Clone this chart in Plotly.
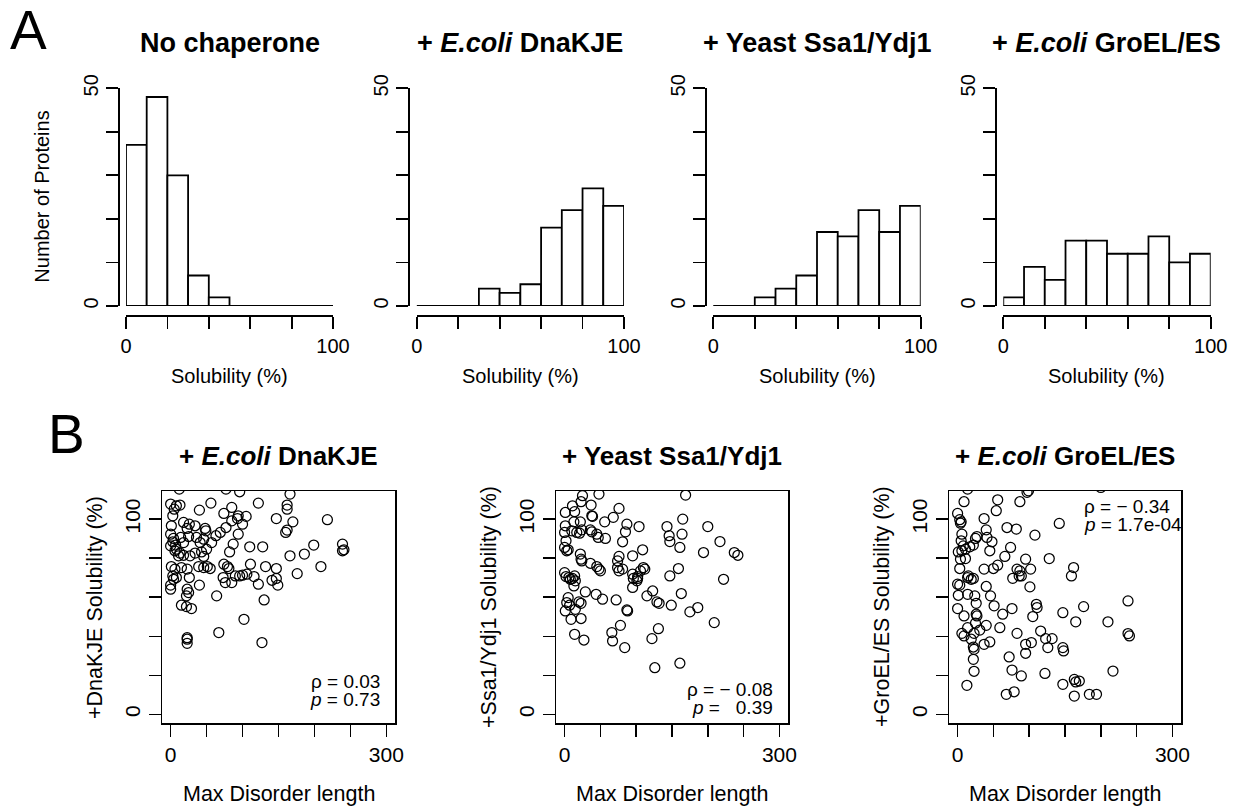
import plotly.graph_objects as go

# ---------------- data ----------------
bin_edges = [0, 10, 20, 30, 40, 50, 60, 70, 80, 90, 100]
hist_titles = ["<b>No chaperone</b>",
               "<b>+ <i>E.coli</i> DnaKJE</b>",
               "<b>+ Yeast Ssa1/Ydj1</b>",
               "<b>+ <i>E.coli</i> GroEL/ES</b>"]
counts_none = [37, 48, 30, 7, 2, 0, 0, 0, 0, 0]
counts_dnakje = [0, 0, 0, 4, 3, 5, 18, 22, 27, 23]
counts_ssa1 = [0, 0, 2, 4, 7, 17, 16, 22, 17, 23]
counts_groel = [2, 9, 6, 15, 15, 12, 12, 16, 10, 12]

scatter_titles = ["<b>+ <i>E.coli</i> DnaKJE</b>",
                  "<b>+ Yeast Ssa1/Ydj1</b>",
                  "<b>+ <i>E.coli</i> GroEL/ES</b>"]
scatter_ylabels = ["+DnaKJE Solubility (%)",
                   "+Ssa1/Ydj1 Solubility (%)",
                   "+GroEL/ES Solubility (%)"]
stats_rho = ["\u03c1 = 0.03", "\u03c1 = \u2212 0.08", "\u03c1 = \u2212 0.34"]
stats_p = ["<i>p</i> = 0.73", "<i>p</i> =\u00a0\u00a0 0.39", "<i>p</i> = 1.7e-04"]

dnakje_pts = [
    (12, 115.4), (77, 115.4), (96, 114), (166, 112.8),
    (0, 107.7), (8, 106.8), (13, 107.2), (5, 105.1), (56, 108.2), (40, 104.6), (85, 106), (74, 102.9),
    (94, 101.7), (105, 101.4), (122, 108.2), (162, 107.2), (162, 105.1), (218, 99.7), (147, 100.3),
    (170, 98.6), (3, 101.7), (160, 93.2), (162, 94.4),
    (1, 96.6), (18, 98.3), (23, 95.2), (26, 97.4), (34, 96.6), (48, 95.2), (49, 94), (85, 99.1),
    (93, 100.3), (100, 97.4), (77, 95.7), (94, 92.3), (69, 93.2), (63, 91.5), (57, 88), (46, 89.7), (41, 88),
    (0, 92.3), (4, 90.1), (3, 88.4), (7, 86.7), (14, 90.6), (18, 88), (25, 91.1), (36, 90.6), (0, 86.3),
    (8, 84.6), (13, 82.6), (18, 81.5), (6, 83.8), (11, 81.2), (27, 81.2), (34, 82.6), (43, 83.2),
    (46, 80.9), (50, 84.6), (82, 83.2), (87, 87.2), (110, 85.8), (128, 85.8), (166, 81.2), (186, 82.1),
    (199, 86.7), (239, 87.2), (239, 83.8), (241, 84.3),
    (1, 75.7), (6, 74.4), (3, 70.9), (8, 70.1), (4, 69.2), (0, 66.2), (0, 64.1), (15, 75.2), (23, 74.4),
    (26, 70.1), (39, 75.7), (46, 75.2), (51, 75.7), (55, 74.7), (74, 76.9), (79, 75.7), (81, 74.7),
    (111, 76.9), (132, 75.7), (147, 74.7), (209, 75.7), (176, 72.1), (73, 70.1), (76, 67.5), (85, 67.5),
    (90, 70.9), (96, 70.9), (100, 71.3), (106, 71.8), (116, 70.6), (122, 66.7), (141, 68.7), (147, 69.6),
    (149, 66.2), (40, 66.2), (23, 64.1), (25, 62.4), (22, 60.7), (64, 60.7), (130, 58.6),
    (15, 55.9), (22, 55.2), (29, 54.2), (102, 48.7), (67, 41.9), (127, 36.8), (23, 39.3), (23, 38.5), (23, 36.4),
]
ssa1_pts = [
    (25, 112), (48, 112.8), (169, 112.3), (23, 108.9), (37, 107.2), (11, 106.8), (1, 103.4), (14, 103.8),
    (76, 105.5), (68, 100.9), (56, 98.6), (38, 101.7), (39, 101.4), (13, 98.6), (22, 98.6), (1, 96.6),
    (87, 97.4), (104, 96.2), (143, 96.2), (165, 100), (200, 96.2), (164, 92.3), (146, 91.5), (147, 88.5),
    (217, 88.5), (161, 85.5), (194, 82.9), (237, 82.9), (242, 81.5),
    (0, 93.2), (10, 94), (17, 93.2), (21, 92.8), (24, 94.5), (36, 94.5), (38, 93.5), (45, 92.3), (47, 90.6),
    (57, 90.1), (85, 93.5), (81, 88.4), (2, 88.9), (0, 85.5), (5, 84.3), (3, 83.8), (109, 84.3), (95, 81.2),
    (76, 80.9), (74, 78.6),
    (22, 82.1), (23, 79.5), (24, 78.6), (36, 77.4), (45, 75.7), (48, 74.4), (50, 73.5), (74, 75.2),
    (76, 73.5), (81, 74.4), (95, 71.8), (96, 69.6), (102, 70.6), (106, 73.5), (110, 75.2), (112, 74.4),
    (147, 70.9), (159, 74.7), (163, 61.9), (222, 69.2),
    (0, 72.6), (2, 70.6), (6, 70.1), (8, 69.2), (11, 69.6), (14, 70.9), (15, 68.4), (13, 65.8), (29, 62.7),
    (44, 61.5), (53, 59), (72, 58.6), (95, 65), (101, 68.4), (102, 69.6), (115, 60.7), (123, 63.2),
    (129, 57.6), (132, 56.9), (149, 55.9), (175, 52.5), (186, 54.7),
    (5, 59.8), (3, 57.3), (7, 55.9), (1, 53), (15, 53.8), (20, 57.6), (23, 56.9), (9, 48.7), (23, 49.1),
    (88, 53), (87, 53.5), (14, 41), (27, 38.1), (66, 41.9), (67, 37.6), (78, 45.6), (84, 34.2), (122, 38.8),
    (131, 43.9), (209, 47), (126, 23.9), (161, 26.2),
]
groel_pts = [
    (14, 115.4), (97, 113.7), (99, 114.5), (200, 116.2), (9, 108.9), (56, 109.9), (87, 108.9), (54, 104.3),
    (0, 102.9), (3, 99.7), (5, 98.6), (4, 97.9), (37, 100.3), (40, 94.5), (69, 95.7), (82, 94.9),
    (108, 91.8), (142, 97.8),
    (6, 92.3), (5, 88.9), (25, 90.1), (27, 91.1), (48, 88.4), (41, 90.6), (45, 83.8), (74, 85.5), (8, 86.3),
    (1, 83.2), (6, 83.8), (11, 84.6), (22, 86.7), (17, 85.8), (4, 79.5), (11, 79.8), (3, 74.7), (56, 76.4),
    (50, 74.7), (37, 74.4), (66, 80.9), (95, 79.5), (102, 74.4), (128, 79.8), (162, 75.2), (159, 70.9),
    (77, 69.7), (83, 74.4), (87, 73.5), (86, 70.9), (89, 70.9),
    (15, 70.9), (19, 69.2), (22, 69.6), (14, 70.1), (0, 66.7), (3, 66.2), (40, 65.5), (101, 65.3), (1, 61),
    (14, 61.5), (24, 60.7), (46, 60.7), (26, 56.9), (51, 55.6), (76, 54.2), (0, 54.2), (110, 56.4),
    (111, 54.7), (105, 50.1), (63, 51.3), (176, 55.2), (238, 58.1), (147, 52.1), (165, 47.4), (210, 47.4),
    (9, 50.4), (26, 51.3), (27, 50.4), (25, 46.7), (40, 45.6), (59, 44.4),
    (14, 44.4), (6, 41.5), (9, 40.2), (19, 38.5), (31, 43.2), (23, 41.5), (22, 34.5), (23, 33.3), (37, 35.9),
    (45, 37.1), (83, 41.5), (116, 42.7), (123, 38.8), (132, 38.8), (126, 34.2), (95, 35.9), (103, 36.8),
    (95, 31.3), (147, 34.2), (148, 32.5), (238, 41.4), (240, 40.2), (72, 29.4), (22, 28.2), (23, 22.1),
    (76, 22.7), (89, 19.7), (122, 21), (147, 15.4), (163, 17.9), (165, 16.6), (170, 17.1), (163, 9.4),
    (194, 10.3), (184, 10.3), (217, 22.2), (68, 10.3), (79, 11.6), (13, 14.9),
]

# ---------------- layout geometry (pixels) ----------------
W, H = 1243, 807
FONT = "Liberation Sans, Arial, Helvetica, sans-serif"


def fx(px):
    return px / W


def fy(py):
    return 1 - py / H


hist_x_px = [(126, 333), (416.7, 624), (713.3, 920.7), (1003.3, 1210.7)]
hist_y0_px, hist_y50_px = 306.0, 88.3
hist_xaxis_px = hist_y0_px + 0.04 * (hist_y0_px - hist_y50_px)

sc_x_px = [(162, 395), (556, 788), (949, 1181)]
sc_y_px = (491, 723)
sc_xrange = [-12, 312]
sc_yrange = [-4.4, 114.4]

fig = go.Figure()
layout = dict(width=W, height=H,
              margin=dict(l=0, r=0, t=0, b=0, pad=0, autoexpand=False),
              paper_bgcolor="white", plot_bgcolor="white", showlegend=False,
              font=dict(family=FONT, color="black"))
annotations = []

all_counts = [counts_none, counts_dnakje, counts_ssa1, counts_groel]
centers = [(bin_edges[i] + bin_edges[i + 1]) / 2 for i in range(len(bin_edges) - 1)]
widths = [bin_edges[i + 1] - bin_edges[i] for i in range(len(bin_edges) - 1)]

for i, counts in enumerate(all_counts):
    n = i + 1
    xa = "x" if n == 1 else f"x{n}"
    ya = "y" if n == 1 else f"y{n}"
    fig.add_trace(go.Scatter(x=[bin_edges[0], bin_edges[-1]], y=[0, 0], mode="lines",
                             line=dict(color="black", width=1.8), cliponaxis=False,
                             xaxis=xa, yaxis=ya, hoverinfo="skip"))
    fig.add_trace(go.Bar(x=centers, y=counts, width=widths,
                         marker=dict(color="white", line=dict(color="black", width=1.8)),
                         cliponaxis=False, xaxis=xa, yaxis=ya))
    x0, x1 = hist_x_px[i]
    left_px = x0 - 0.04 * (x1 - x0)
    xname = "xaxis" if n == 1 else f"xaxis{n}"
    yname = "yaxis" if n == 1 else f"yaxis{n}"
    layout[xname] = dict(domain=[fx(x0), fx(x1)], range=[0, 100], anchor="free",
                         position=fy(hist_xaxis_px), showline=True, linecolor="black",
                         linewidth=1.8, ticks="outside", ticklen=12, tickwidth=1.8,
                         tickcolor="black", tickvals=[0, 20, 40, 60, 80, 100],
                         ticktext=["0", "", "", "", "", "100"], showgrid=False,
                         zeroline=False, tickfont=dict(size=20, family=FONT),
                         automargin=False, fixedrange=True)
    layout[yname] = dict(domain=[fy(hist_y0_px), fy(hist_y50_px)], range=[0, 50],
                         anchor="free", position=fx(left_px), showline=True,
                         linecolor="black", linewidth=1.8, ticks="outside", ticklen=12,
                         tickwidth=1.8, tickcolor="black",
                         tickvals=[0, 10, 20, 30, 40, 50],
                         ticktext=["0", "", "", "", "", "50"], tickangle=-90,
                         showgrid=False, zeroline=False, automargin=False,
                         tickfont=dict(size=20, family=FONT), fixedrange=True)
    cx = (left_px + x1 + 0.04 * (x1 - x0)) / 2
    annotations.append(dict(text=hist_titles[i], x=fx(cx), y=fy(43), xref="paper",
                            yref="paper", xanchor="center", yanchor="middle",
                            showarrow=False, font=dict(size=27, family=FONT)))
    annotations.append(dict(text="Solubility (%)", x=fx(cx), y=fy(376), xref="paper",
                            yref="paper", xanchor="center", yanchor="middle",
                            showarrow=False, font=dict(size=20, family=FONT)))

annotations.append(dict(text="Number of Proteins", x=fx(42.5),
                        y=fy((hist_y0_px + hist_y50_px) / 2), xref="paper", yref="paper",
                        xanchor="center", yanchor="middle", textangle=-90,
                        showarrow=False, font=dict(size=20, family=FONT)))

all_pts = [dnakje_pts, ssa1_pts, groel_pts]
stat_pos = [
    dict(x=381.7, anchor="right", y1=681, y2=699.5),
    dict(x=775, anchor="right", y1=689, y2=707.5),
    dict(x=1081.7, anchor="left", y1=506, y2=524.5),
]
for j, pts in enumerate(all_pts):
    n = j + 5
    xa, ya = f"x{n}", f"y{n}"
    xs = [p[0] for p in pts]
    ys = [p[1] for p in pts]
    fig.add_trace(go.Scatter(x=xs, y=ys, mode="markers",
                             marker=dict(symbol="circle-open", size=10, color="black",
                                         line=dict(width=1.25, color="black")),
                             xaxis=xa, yaxis=ya))
    bx0, bx1 = sc_x_px[j]
    layout[f"xaxis{n}"] = dict(domain=[fx(bx0), fx(bx1)], range=sc_xrange, anchor=ya,
                               showline=True, mirror=True, linecolor="black", linewidth=1.5,
                               ticks="outside", ticklen=12, tickwidth=1.5, tickcolor="black",
                               tickvals=[0, 50, 100, 150, 200, 250, 300],
                               ticktext=["0", "", "", "", "", "", "300"], showgrid=False,
                               zeroline=False, tickfont=dict(size=21, family=FONT),
                               automargin=False, fixedrange=True)
    layout[f"yaxis{n}"] = dict(domain=[fy(sc_y_px[1]), fy(sc_y_px[0])], range=sc_yrange,
                               anchor=xa, showline=True, mirror=True, linecolor="black",
                               linewidth=1.5, ticks="outside", ticklen=12, tickwidth=1.5,
                               tickcolor="black", tickvals=[0, 20, 40, 60, 80, 100],
                               ticktext=["0", "", "", "", "", "100"], tickangle=-90,
                               showgrid=False, zeroline=False, automargin=False,
                               tickfont=dict(size=21, family=FONT), fixedrange=True)
    cx = (bx0 + bx1) / 2
    annotations.append(dict(text=scatter_titles[j], x=fx(cx), y=fy(456), xref="paper",
                            yref="paper", xanchor="center", yanchor="middle",
                            showarrow=False, font=dict(size=26, family=FONT)))
    annotations.append(dict(text="Max Disorder length", x=fx(cx), y=fy(794), xref="paper",
                            yref="paper", xanchor="center", yanchor="middle",
                            showarrow=False, font=dict(size=21.5, family=FONT)))
    annotations.append(dict(text=scatter_ylabels[j], x=fx(bx0 - 67),
                            y=fy((sc_y_px[0] + sc_y_px[1]) / 2), xref="paper", yref="paper",
                            xanchor="center", yanchor="middle", textangle=-90,
                            showarrow=False, font=dict(size=21.5, family=FONT)))
    sp = stat_pos[j]
    annotations.append(dict(text=stats_rho[j], x=fx(sp["x"]), y=fy(sp["y1"]), xref="paper",
                            yref="paper", xanchor=sp["anchor"], yanchor="middle",
                            showarrow=False, font=dict(size=19, family=FONT)))
    annotations.append(dict(text=stats_p[j], x=fx(sp["x"]), y=fy(sp["y2"]), xref="paper",
                            yref="paper", xanchor=sp["anchor"], yanchor="middle",
                            showarrow=False, font=dict(size=19, family=FONT)))

annotations.append(dict(text="A", x=fx(8), y=fy(30), xref="paper", yref="paper",
                        xanchor="left", yanchor="middle", showarrow=False,
                        font=dict(size=55, family=FONT)))
annotations.append(dict(text="B", x=fx(46), y=fy(434), xref="paper", yref="paper",
                        xanchor="left", yanchor="middle", showarrow=False,
                        font=dict(size=55, family=FONT)))

layout["annotations"] = annotations
fig.update_layout(**layout)
fig.write_html("out.html",
               config={"displayModeBar": False, "staticPlot": True},
               post_script="document.body.style.margin='0';"
                           "document.body.style.overflow='hidden';")
